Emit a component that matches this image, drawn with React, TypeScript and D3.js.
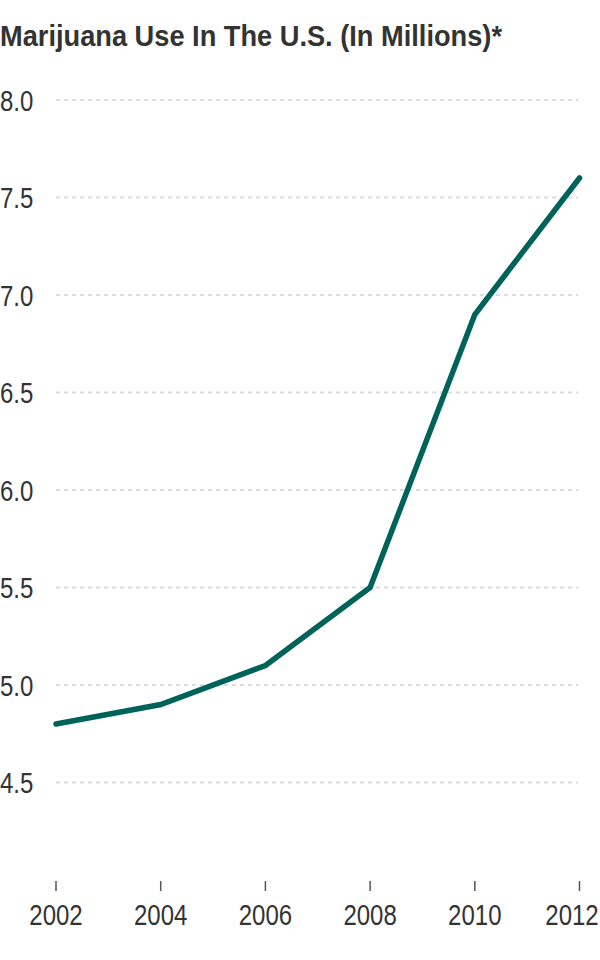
import React from "react";
import * as d3 from "d3";

const years = [2002, 2004, 2006, 2008, 2010, 2012];
const users = [4.8, 4.9, 5.1, 5.5, 6.9, 7.6];
const yTicks = [4.5, 5.0, 5.5, 6.0, 6.5, 7.0, 7.5, 8.0];
const title = "Marijuana Use In The U.S. (In Millions)*";

const W = 600;
const H = 960;
const FONT = "'Liberation Sans', Arial, sans-serif";
const SX = 0.8; // horizontal condensing of label glyphs
const LABEL_HALF = 27; // approx half width of a year label

export default function App() {
  const x = d3.scaleLinear().domain([2002, 2012]).range([56, 579.5]);
  const y = d3.scaleLinear().domain([4, 8]).range([880, 100]);
  const data = years.map((yr, i) => ({ yr, v: users[i] }));
  const line = d3
    .line<{ yr: number; v: number }>()
    .x((d) => x(d.yr))
    .y((d) => y(d.v));

  return (
    <svg
      width={W}
      height={H}
      style={{ position: "absolute", left: 0, top: 0, background: "#fff" }}
      fontFamily={FONT}
    >
      <text
        x={0}
        y={46}
        fontSize={29}
        fontWeight="bold"
        fill="#333"
        textLength={502}
        lengthAdjust="spacingAndGlyphs"
      >
        {title}
      </text>
      {yTicks.map((t) => (
        <g key={t}>
          <line
            x1={56}
            x2={578}
            y1={y(t)}
            y2={y(t)}
            stroke="#dcdcdc"
            strokeWidth={2}
            strokeDasharray="4,4"
          />
          <g transform={`translate(0,${y(t)}) scale(${SX},1)`}>
            <text x={0} y={0} dy="0.36em" fontSize={30} fill="#333">
              {t.toFixed(1)}
            </text>
          </g>
        </g>
      ))}
      {years.map((yr) => {
        const cx = Math.min(x(yr), W - 1 - LABEL_HALF);
        return (
          <g key={yr}>
            <line x1={x(yr)} x2={x(yr)} y1={881} y2={891} stroke="#555" strokeWidth={1.5} />
            <g transform={`translate(${cx},925) scale(${SX},1)`}>
              <text x={0} y={0} fontSize={30} fill="#333" textAnchor="middle">
                {yr}
              </text>
            </g>
          </g>
        );
      })}
      <path
        d={line(data) || ""}
        fill="none"
        stroke="#00635a"
        strokeWidth={5.5}
        strokeLinecap="round"
        strokeLinejoin="miter"
      />
    </svg>
  );
}
